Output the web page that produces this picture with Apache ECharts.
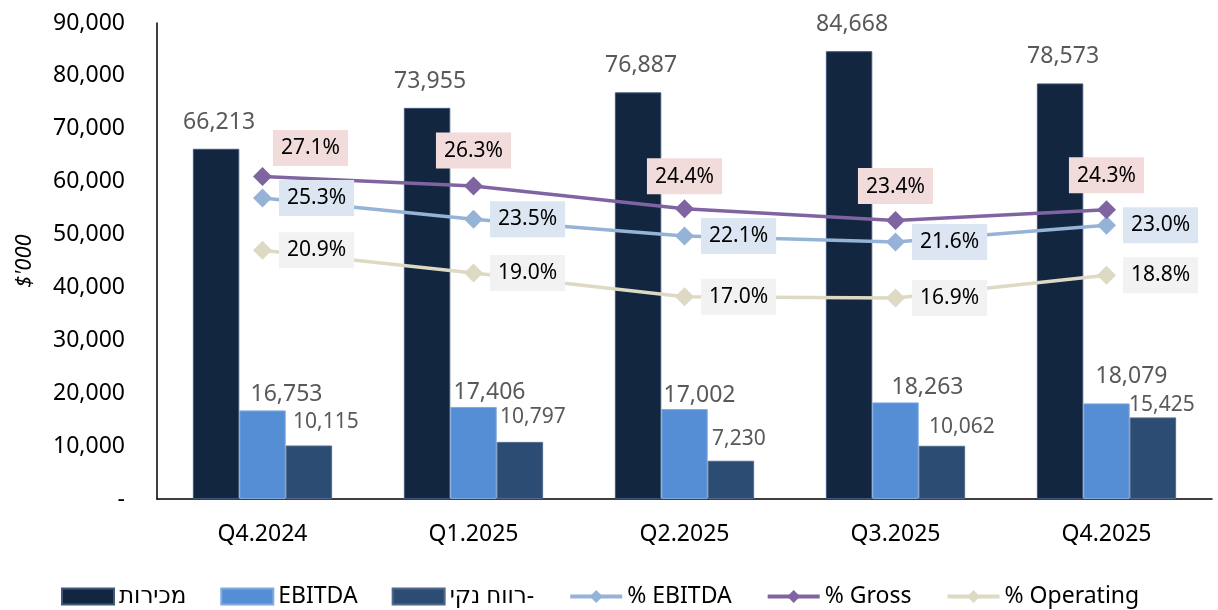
<!DOCTYPE html>
<html>
<head>
<meta charset="utf-8">
<script src="https://cdn.jsdelivr.net/npm/echarts@6/dist/echarts.min.js"></script>
<style>
  html, body { margin: 0; padding: 0; background: #fff; }
  #chart { width: 1218px; height: 610px; }
</style>
</head>
<body>
<div id="chart"></div>
<script>
// data
const quarters = ['Q4.2024', 'Q1.2025', 'Q2.2025', 'Q3.2025', 'Q4.2025']
const sales = [66213, 73955, 76887, 84668, 78573]        // מכירות
const ebitda = [16753, 17406, 17002, 18263, 18079]
const netProfit = [10115, 10797, 7230, 10062, 15425]     // רווח נקי
const ebitdaPct = [25.3, 23.5, 22.1, 21.6, 23.0]
const grossPct = [27.1, 26.3, 24.4, 23.4, 24.3]
const operatingPct = [20.9, 19.0, 17.0, 16.9, 18.8]

// label nudges (the excel labels were moved by hand)
const ebitdaLabelShift = [[24, -4], [16, -3], [15, -2], [32, -3], [25, -15]]
const netLabelShift = [[17, -13], [13, -14], [8, -11], [20, -8], [9, -2]]
const grossLabelShift = [[48, 3], [0, -4], [0, -1], [0, -3], [0, -3]]

const FONT = "'Noto Sans', 'DejaVu Sans', sans-serif"
const fmt = v => v === 0 ? '-' : v.toLocaleString('en-US')
const pct = p => p.value.toFixed(1) + '%'

const withShift = (values, shifts) => values.map((v, i) => ({
  value: v,
  label: { offset: shifts[i] }
}))

const pctLabel = (bg) => ({
  show: true,
  formatter: pct,
  color: '#000',
  fontSize: 21,
  fontFamily: FONT,
  backgroundColor: bg,
  padding: [8, 8, 7, 8]
})

const chart = echarts.init(document.getElementById('chart'))

const option = {
  animation: false,
  grid: { left: 157, right: 6, top: 23, bottom: 111 },
  legend: {
    left: 56,
    top: 580,
    itemGap: 34,
    itemWidth: 52,
    itemHeight: 16,
    lineStyle: { width: 4 },
    textStyle: { color: '#000', fontSize: 23, fontFamily: FONT },
    data: [
      { name: 'מכירות', icon: 'rect' },
      { name: 'EBITDA', icon: 'rect' },
      { name: 'רווח נקי-', icon: 'rect' },
      { name: '% EBITDA' },
      { name: '% Gross' },
      { name: '% Operating' }
    ]
  },
  xAxis: {
    type: 'category',
    data: quarters,
    axisLine: { lineStyle: { color: '#000', width: 1.5 } },
    axisTick: { show: false },
    axisLabel: { color: '#000', fontSize: 23, fontFamily: FONT, margin: 24 }
  },
  yAxis: [
    {
      type: 'value',
      min: 0,
      max: 90000,
      interval: 10000,
      name: "$'000",
      nameLocation: 'middle',
      nameGap: 121,
      nameTextStyle: { color: '#000', fontSize: 22, fontStyle: 'italic', fontFamily: FONT },
      axisLine: { show: true, lineStyle: { color: '#000', width: 1.5 } },
      axisTick: { show: false },
      splitLine: { show: false },
      axisLabel: { color: '#000', fontSize: 23, fontFamily: FONT, margin: 32, formatter: fmt }
    },
    {
      type: 'value',
      min: 0,
      max: 40,
      show: false,
      splitLine: { show: false }
    }
  ],
  series: [
    {
      name: 'מכירות',
      type: 'bar',
      data: sales,
      barWidth: '22%',
      barGap: '0%',
      itemStyle: { color: '#13263F', borderColor: '#42587A', borderWidth: 1 },
      label: {
        show: true, position: 'top', distance: 0, offset: [3, -15],
        color: '#595959', fontSize: 23, fontFamily: FONT,
        formatter: p => fmt(p.value)
      }
    },
    {
      name: 'EBITDA',
      type: 'bar',
      data: withShift(ebitda, ebitdaLabelShift),
      barWidth: '22%',
      barGap: '0%',
      itemStyle: { color: '#558ED5', borderColor: '#7FAAE0', borderWidth: 1 },
      label: {
        show: true, position: 'top', distance: 0,
        color: '#595959', fontSize: 23, fontFamily: FONT,
        formatter: p => fmt(p.value)
      }
    },
    {
      name: 'רווח נקי-',
      type: 'bar',
      data: withShift(netProfit, netLabelShift),
      barWidth: '22%',
      barGap: '0%',
      itemStyle: { color: '#2C4C74', borderColor: '#51698C', borderWidth: 1 },
      label: {
        show: true, position: 'top', distance: 0,
        color: '#595959', fontSize: 21, fontFamily: FONT,
        formatter: p => fmt(p.value)
      }
    },
    {
      name: '% EBITDA',
      type: 'line',
      yAxisIndex: 1,
      data: ebitdaPct,
      symbol: 'diamond',
      symbolSize: 19,
      lineStyle: { color: '#95B3D7', width: 3.5 },
      itemStyle: { color: '#95B3D7' },
      label: { ...pctLabel('#DCE6F2'), position: 'right', distance: 7 }
    },
    {
      name: '% Gross',
      type: 'line',
      yAxisIndex: 1,
      data: withShift(grossPct, grossLabelShift),
      symbol: 'diamond',
      symbolSize: 19,
      lineStyle: { color: '#8064A2', width: 3.5 },
      itemStyle: { color: '#8064A2' },
      label: { ...pctLabel('#F2DCDB'), position: 'top', distance: 4 }
    },
    {
      name: '% Operating',
      type: 'line',
      yAxisIndex: 1,
      data: operatingPct,
      symbol: 'diamond',
      symbolSize: 19,
      lineStyle: { color: '#DDD9C3', width: 3.5 },
      itemStyle: { color: '#DDD9C3' },
      label: { ...pctLabel('#F2F2F2'), position: 'right', distance: 7 }
    }
  ]
}

chart.setOption(option)
window.addEventListener('resize', () => chart.resize())
</script>
</body>
</html>
